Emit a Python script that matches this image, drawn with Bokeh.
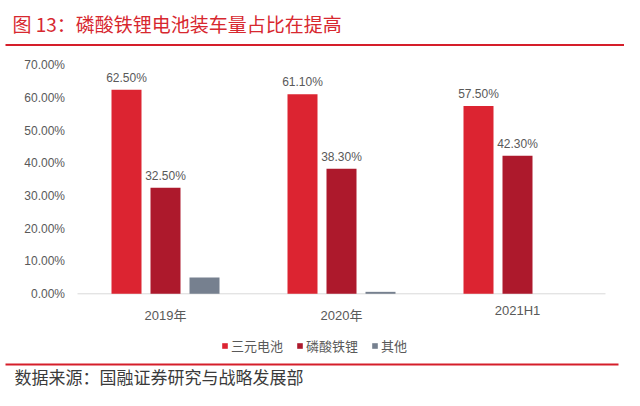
from bokeh.plotting import figure
from bokeh.models import (ColumnDataSource, LabelSet, Label, Legend, LegendItem, Range1d)
from bokeh.core.properties import value
from bokeh.embed import file_html
from bokeh.resources import INLINE

# ---- data ----
categories = ["2019年", "2020年", "2021H1"]
series_names = ["三元电池", "磷酸铁锂", "其他"]
ternary = [0.625, 0.611, 0.575]
lfp = [0.325, 0.383, 0.423]
other = [0.050, 0.006, 0.0]
y_ticks = [0.0, 0.1, 0.2, 0.3, 0.4, 0.5, 0.6, 0.7]
title_text = "图 13：磷酸铁锂电池装车量占比在提高"
source_text = "数据来源：国融证券研究与战略发展部"

colors = ["#DC2431", "#AD192C", "#76808F"]
TXT = "#595959"
LINE_RED = "#D51E2A"
LAT = "'Liberation Sans', 'Noto Sans CJK SC'"
CJK = "'Noto Sans CJK SC'"

# ---- layout (canvas pixels, top-left origin) ----
W, H = 624, 390
PL, PR = 77, 605          # plot area left/right
PY0, PY1 = 293.3, 64.8    # pixel of y=0 and y=0.70
CAT_MIN, CAT_MAX = -0.5, 2.5
kx = (PR - PL) / (CAT_MAX - CAT_MIN)
ky = (PY0 - PY1) / 0.70


def xd(px):
    return CAT_MIN + (px - PL) / kx


def yd(py):
    return (PY0 - py) / ky


p = figure(width=W, height=H, output_backend="svg", toolbar_location=None,
           x_range=Range1d(xd(0), xd(W)), y_range=Range1d(yd(H), yd(0)),
           x_axis_location=None, y_axis_location=None,
           min_border=0, title=None)
p.outline_line_color = None
p.grid.visible = False
p.background_fill_color = "white"
p.border_fill_color = "white"

# baseline (category axis line)
p.segment(x0=[CAT_MIN], x1=[CAT_MAX], y0=[0], y1=[0],
          line_color="#D9D9D9", line_width=1)

bar_w = 30 / kx
step = 39 / kx
offsets = [-step, 0.0, step]
all_series = [ternary, lfp, other]

items = []
for k, (vals, name, col) in enumerate(zip(all_series, series_names, colors)):
    xs = [i + offsets[k] for i in range(len(categories))]
    src = ColumnDataSource(dict(x=xs, top=vals,
                                label=["%.2f%%" % (v * 100) for v in vals]))
    r = p.vbar(x="x", top="top", width=bar_w, source=src,
               fill_color=col, line_color=None)
    items.append(LegendItem(label=name, renderers=[r]))
    if k < 2:
        p.add_layout(LabelSet(x="x", y="top", text="label", source=src,
                              text_align="center", text_baseline="bottom",
                              y_offset=5, text_font=value(LAT),
                              text_font_size=value("12px"), text_color=TXT))

# y tick labels
p.text(x=[xd(64.5)] * len(y_ticks), y=y_ticks,
       text=["%.2f%%" % (t * 100) for t in y_ticks],
       text_align="right", text_baseline="middle", text_font=value(LAT),
       text_font_size="12px", text_color=TXT)

# category labels
cat_y = [yd(315), yd(315), yd(310)]
p.text(x=list(range(len(categories))), y=cat_y, text=categories,
       text_align="center", text_baseline="middle", text_font=value(LAT),
       text_font_size="13px", text_color=TXT)

# legend
legend = Legend(items=items, orientation="horizontal", location=(221, H - 355),
                glyph_width=7, glyph_height=7, label_standoff=3, spacing=13,
                padding=0, margin=0, border_line_color=None,
                background_fill_alpha=0, label_text_font=LAT,
                label_text_font_size="13px", label_text_color=TXT,
                label_height=18)
p.add_layout(legend)

# title, rules, source
p.add_layout(Label(x=xd(12), y=yd(23), text=title_text, text_baseline="middle",
                   text_font=CJK, text_font_size="19px", text_color="#D7282F"))
p.segment(x0=[xd(5)], x1=[xd(W)], y0=[yd(44.5)], y1=[yd(44.5)],
          line_color=LINE_RED, line_width=2)
p.segment(x0=[xd(5)], x1=[xd(618)], y0=[yd(364)], y1=[yd(364)],
          line_color=LINE_RED, line_width=2)
p.add_layout(Label(x=xd(14), y=yd(376), text=source_text, text_baseline="middle",
                   text_font=CJK, text_font_size="17px", text_color="#3A3A3A"))

open("out.html", "w").write(file_html(p, INLINE))
